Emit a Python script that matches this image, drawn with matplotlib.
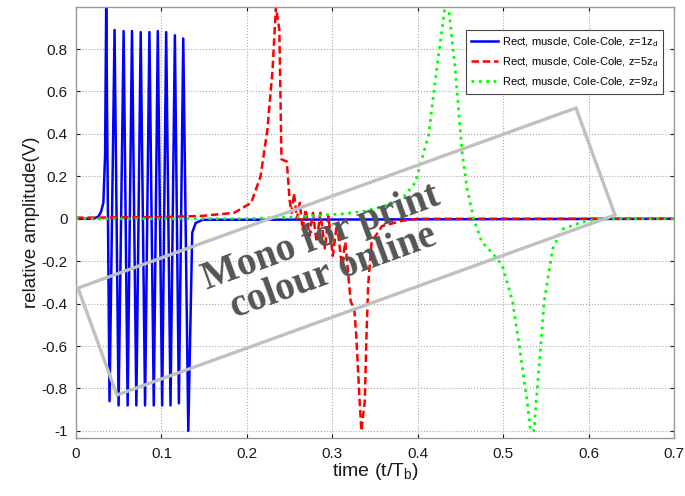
import numpy as np
import matplotlib
matplotlib.use('Agg')
import matplotlib.pyplot as plt
from matplotlib.patches import Polygon

plt.rcParams['font.family'] = ['Liberation Sans', 'DejaVu Sans']
plt.rcParams['mathtext.fontset'] = 'custom'
plt.rcParams['mathtext.rm'] = 'Liberation Sans'
plt.rcParams['mathtext.it'] = 'Liberation Sans:italic'

# z = 1 z_d (solid blue)
blue_t = [0, 0.020, 0.026, 0.029, 0.032, 0.034, 0.0353, 0.0392, 0.0451, 0.0498, 0.0557, 0.0604,
          0.0655, 0.0706, 0.0757, 0.0808, 0.0859, 0.0910, 0.0957, 0.1008, 0.1055, 0.1106,
          0.1157, 0.1204, 0.1255, 0.1314, 0.136, 0.140, 0.148, 0.7]
blue_v = [0, 0, 0.01, 0.03, 0.075, 0.3, 1.0, -0.86, 0.89, -0.88, 0.885, -0.88,
          0.885, -0.88, 0.88, -0.88, 0.88, -0.88, 0.885, -0.88, 0.88, -0.88,
          0.865, -0.87, 0.85, -1.0, -0.066, -0.02, -0.005, 0]

# z = 5 z_d (dashed red)
red_t = [0, 0.10, 0.146, 0.185, 0.205, 0.216, 0.224, 0.230, 0.234, 0.238, 0.2405, 0.2467,
         0.250, 0.2522, 0.2552, 0.2585, 0.2619, 0.2652, 0.2689, 0.2732, 0.2774, 0.2816,
         0.2859, 0.2913, 0.2954, 0.3005, 0.3055, 0.311, 0.3152, 0.3215, 0.3257, 0.328,
         0.332, 0.334, 0.338, 0.340, 0.342, 0.346, 0.358, 0.381, 0.40, 0.7]
red_v = [0.005, 0.008, 0.013, 0.028, 0.075, 0.20, 0.42, 0.70, 1.0, 0.89, 0.28, 0.27,
         0.09, 0.028, 0.12, 0.0, 0.075, -0.05, 0.044, -0.08, 0.028, -0.11,
         0.028, -0.14, 0.013, -0.175, -0.02, -0.22, -0.11, -0.39, -0.425, -0.55,
         -0.86, -1.0, -0.86, -0.55, -0.31, -0.11, -0.035, -0.01, 0, 0]

# z = 9 z_d (dotted green)
green_t = [0, 0.20, 0.233, 0.264, 0.296, 0.31, 0.338, 0.361, 0.381, 0.397, 0.4125, 0.422,
           0.432, 0.436, 0.444, 0.452, 0.458, 0.4655, 0.475, 0.487, 0.499, 0.511, 0.520,
           0.528, 0.532, 0.536, 0.542, 0.548, 0.558, 0.569, 0.589, 0.605, 0.62, 0.7]
green_v = [0, 0.0, 0.005, 0.01, 0.02, 0.022, 0.036, 0.06, 0.09, 0.17, 0.39, 0.70,
           1.0, 1.0, 0.70, 0.31, 0.137, 0.0, -0.11, -0.16, -0.22, -0.39, -0.63,
           -0.86, -1.0, -1.0, -0.70, -0.39, -0.14, -0.05, -0.02, -0.005, 0, 0]

labels = ['Rect, muscle, Cole-Cole, z=1z$_{\\rm d}$',
          'Rect, muscle, Cole-Cole, z=5z$_{\\rm d}$',
          'Rect, muscle, Cole-Cole, z=9z$_{\\rm d}$']

x_ticks = [0, 0.1, 0.2, 0.3, 0.4, 0.5, 0.6, 0.7]
x_ticklabels = ['0', '0.1', '0.2', '0.3', '0.4', '0.5', '0.6', '0.7']
y_ticks = [-1, -0.8, -0.6, -0.4, -0.2, 0, 0.2, 0.4, 0.6, 0.8]
y_ticklabels = ['-1', '-0.8', '-0.6', '-0.4', '-0.2', '0', '0.2', '0.4', '0.6', '0.8']

fig = plt.figure(figsize=(6.85, 4.96), dpi=100)
ax = fig.add_axes([0.111, 0.1163, 0.873, 0.8703])

ax.plot(blue_t, blue_v, '-', color=(0, 0, 1), lw=1.8, label=labels[0])
ax.plot(red_t, red_v, '--', color=(1, 0, 0), lw=1.8, dashes=(3, 1.5), label=labels[1])
ax.plot(green_t, green_v, ':', color=(0, 1, 0), lw=2.0, label=labels[2])

ax.set_xlim(0, 0.7)
ax.set_ylim(-1.035, 1.0)
ax.set_xticks(x_ticks)
ax.set_xticklabels(x_ticklabels)
ax.set_yticks(y_ticks)
ax.set_yticklabels(y_ticklabels)
ax.tick_params(direction='in', length=3, labelsize=11, pad=6, colors='#1a1a1a')
ax.tick_params(top=True, right=True, labeltop=False, labelright=False)
ax.grid(True, linestyle=':', color='#aaaaaa', lw=0.8)
for s in ax.spines.values():
    s.set_color('#999999')
    s.set_linewidth(1.0)

ax.set_xlabel('time (t/T$_{\\rm b}$)', fontsize=14, color='#1a1a1a', labelpad=0)
ax.set_ylabel('relative amplitude(V)', fontsize=13.5, color='#1a1a1a', labelpad=1)

leg = ax.legend(loc='upper right', bbox_to_anchor=(0.982, 0.946), fontsize=8,
                fancybox=False, framealpha=1, edgecolor='#444444', borderaxespad=0,
                handlelength=2.4, borderpad=0.45, labelspacing=0.6, handletextpad=0.4)
leg.get_frame().set_linewidth(0.8)

# "Mono for print / colour online" stamp
W, H = 685.0, 496.0
corners = [(78, 288), (576, 108), (615, 215), (117, 395)]
poly = Polygon([(x / W, 1 - y / H) for x, y in corners], closed=True, fill=False,
               edgecolor='#c0c0c0', lw=2.4, transform=fig.transFigure, zorder=5)
fig.add_artist(poly)
fig.text(327 / W, 1 - 255 / H, 'Mono for print\ncolour online', rotation=20,
         ha='center', va='center', multialignment='center', rotation_mode='anchor',
         fontsize=28, fontweight='bold', family='Liberation Serif', color='#555555',
         linespacing=1.0, zorder=6)

fig.savefig('out.png', dpi=100)
